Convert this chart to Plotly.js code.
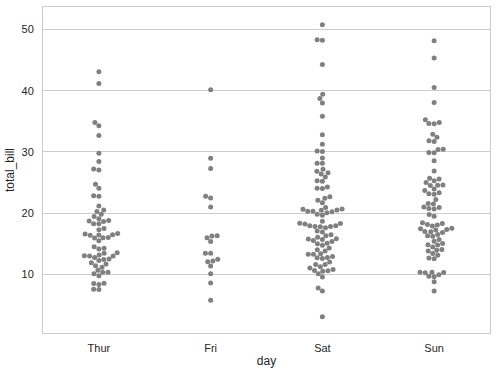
<!DOCTYPE html>
<html>
<head>
<meta charset="utf-8">
<script src="https://cdn.plot.ly/plotly-3.0.1.min.js"></script>
<style>html,body{margin:0;padding:0;background:#fff;}#chart{width:496px;height:374px;}</style>
</head>
<body>
<div id="chart"></div>
<script>
// Categories
const days = ['Thur', 'Fri', 'Sat', 'Sun'];

// total_bill values per day
const thur = [27.20, 22.76, 17.29, 19.44, 16.66, 10.07, 32.68, 15.98, 34.83, 13.03, 18.28, 24.71, 21.16,
  10.65, 12.43, 24.08, 11.69, 13.42, 14.26, 15.95, 12.48, 29.80, 8.52, 14.52, 11.38, 22.82, 19.08, 20.27,
  11.17, 12.26, 18.26, 8.51, 10.33, 14.15, 16.00, 13.16, 17.47, 34.30, 41.19, 27.05, 16.43, 8.35, 18.64,
  11.87, 9.78, 7.51, 19.81, 28.44, 15.48, 16.58, 7.56, 10.34, 43.11, 13.00, 13.51, 18.71, 12.74, 13.00,
  16.40, 20.53, 16.47, 18.78];
const fri = [28.97, 22.49, 5.75, 16.32, 22.75, 40.17, 27.28, 12.03, 21.01, 12.46, 11.35, 15.38, 12.16,
  13.42, 8.58, 15.98, 13.42, 16.27, 10.09];
const sat = [20.65, 17.92, 20.29, 15.77, 39.42, 19.82, 17.81, 13.37, 12.69, 21.70, 19.65, 9.55, 18.35,
  15.06, 20.69, 17.78, 24.06, 16.31, 16.93, 18.69, 31.27, 16.04,
  38.01, 26.41, 11.24, 48.27, 20.29, 13.81, 11.02, 18.29, 17.59, 20.08, 16.45, 3.07, 20.23, 15.01, 12.02,
  17.07, 26.86, 25.28, 14.73, 10.51, 17.92,
  44.30, 22.42, 20.92, 15.36, 20.49, 25.21, 18.24, 14.31, 14.00, 7.25,
  10.59, 10.63, 50.81, 15.81,
  26.59, 38.73, 24.27, 12.76, 30.06, 25.89, 48.33, 13.27, 28.17, 12.90, 28.15, 11.59, 7.74, 30.14,
  20.45, 13.28, 22.12, 24.01, 15.69, 11.61, 10.77, 15.53, 10.07, 12.60, 32.83, 35.83, 29.03, 27.18, 22.67, 17.82];
const sun = [16.99, 10.34, 21.01, 23.68, 24.59, 25.29, 8.77, 26.88, 15.04, 14.78, 10.27, 35.26, 15.42,
  18.43, 14.83, 21.58, 10.33, 16.29, 16.97,
  17.46, 13.94, 9.68, 30.40, 18.29, 22.23, 32.40, 28.55, 18.04, 12.54, 10.29, 34.81, 9.94, 25.56, 19.49,
  38.07, 23.95, 25.71, 17.31, 29.93,
  14.07, 13.13, 17.26, 24.55, 19.77, 29.85, 48.17, 25.00, 13.39, 16.49, 21.50, 12.66, 16.21, 13.81, 17.51,
  24.52, 20.76, 31.71,
  7.25, 31.85, 16.82, 32.90, 17.89, 14.48, 9.60, 34.63, 34.65, 23.33, 45.35, 23.17, 40.55, 20.69, 20.90,
  30.46, 18.15, 23.10, 15.69];
const series = [thur, fri, sat, sun];

// Layout geometry
const W = 496, H = 374;
const M = {l: 43, r: 6, t: 7, b: 41};
const plotW = W - M.l - M.r, plotH = H - M.t - M.b;
const yRange = [0.4, 53.7];
const xRange = [-0.5, 3.5];
const markerDiam = 5;
const R = markerDiam / 2;

// Beeswarm (seaborn-style) computed in pixel space
function beeswarm(vals) {
  const pxPerY = plotH / (yRange[1] - yRange[0]);
  const pts = vals.map((v, i) => ({i, y: (v - yRange[0]) * pxPerY, x: 0, r: R}));
  const order = pts.slice().sort((a, b) => a.y - b.y);
  const swarm = [order[0]];
  for (let k = 1; k < order.length; k++) {
    const p = order[k];
    const neighbors = [];
    for (let j = swarm.length - 1; j >= 0; j--) {
      const q = swarm[j];
      if (p.y - q.y < p.r + q.r) neighbors.push(q); else break;
    }
    neighbors.reverse();
    const cands = [0];
    let leftFirst = true;
    for (const q of neighbors) {
      const dy = p.y - q.y;
      const dx = Math.sqrt(Math.max((p.r + q.r) ** 2 - dy * dy, 0)) * 1.05;
      const cl = q.x - dx, cr = q.x + dx;
      if (leftFirst) cands.push(cl, cr); else cands.push(cr, cl);
      leftFirst = !leftFirst;
    }
    const sorted = cands.map((c, idx) => ({c, idx})).sort((a, b) => (Math.abs(a.c) - Math.abs(b.c)) || (a.idx - b.idx)).map(o => o.c);
    let chosen = sorted[0];
    if (neighbors.length) {
      for (const c of sorted) {
        let ok = true;
        for (const q of neighbors) {
          const ddx = q.x - c, ddy = q.y - p.y;
          if (ddx * ddx + ddy * ddy < (q.r + p.r) ** 2 - 1e-9) { ok = false; break; }
        }
        if (ok) { chosen = c; break; }
      }
    }
    p.x = chosen;
    swarm.push(p);
  }
  const pxPerX = plotW / (xRange[1] - xRange[0]);
  const offs = new Array(vals.length);
  pts.forEach(p => { offs[p.i] = p.x / pxPerX; });
  return offs;
}

const traces = series.map((vals, d) => {
  const offs = beeswarm(vals);
  return {
    type: 'scatter', mode: 'markers',
    x: vals.map((v, i) => d + offs[i]),
    y: vals,
    marker: {color: '#808080', size: markerDiam, line: {width: 0}},
    hoverinfo: 'skip', showlegend: false
  };
});

const font = {family: 'Liberation Sans, Arial, sans-serif', size: 11, color: '#262626'};
const layout = {
  width: W, height: H,
  margin: M,
  paper_bgcolor: '#ffffff', plot_bgcolor: '#ffffff',
  font: font,
  showlegend: false,
  xaxis: {
    range: xRange, tickvals: [0, 1, 2, 3], ticktext: days,
    showgrid: false, zeroline: false,
    showline: true, mirror: true, linecolor: '#cccccc', linewidth: 1,
    ticks: 'outside', ticklen: 5, tickcolor: 'rgba(0,0,0,0)',
    tickfont: {size: 11, color: '#262626'},
    title: {text: 'day', font: {size: 12, color: '#262626'}, standoff: 3}
  },
  yaxis: {
    range: yRange, tickvals: [10, 20, 30, 40, 50],
    showgrid: true, gridcolor: '#cccccc', gridwidth: 1, zeroline: false,
    showline: true, mirror: true, linecolor: '#cccccc', linewidth: 1,
    ticks: 'outside', ticklen: 6, tickcolor: 'rgba(0,0,0,0)',
    tickfont: {size: 11, color: '#262626'},
    title: {text: 'total_bill', font: {size: 12, color: '#262626'}, standoff: 4}
  }
};

Plotly.newPlot('chart', traces, layout, {displayModeBar: false, staticPlot: true});
</script>
</body>
</html>
